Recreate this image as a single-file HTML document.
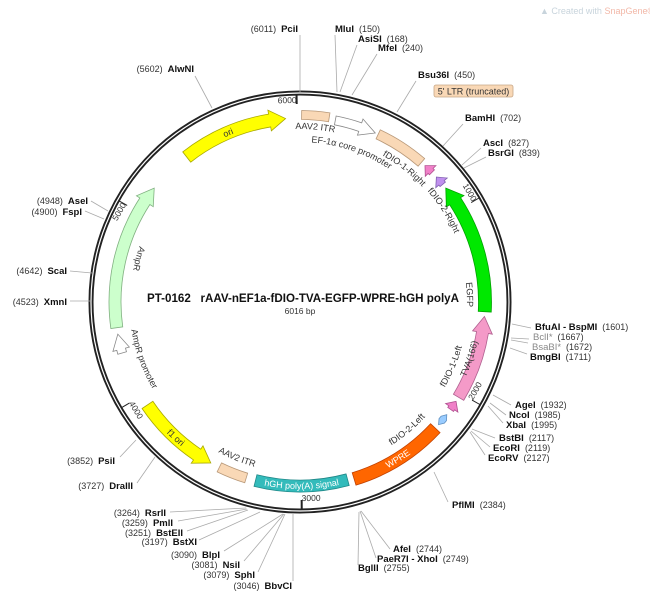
<!DOCTYPE html>
<html><head><meta charset="utf-8">
<style>
html,body{margin:0;padding:0;background:#fff;}
svg{display:block;font-family:"Liberation Sans","DejaVu Sans",sans-serif;}
.n{font-size:9px;fill:#333;}
.b{font-size:9.5px;font-weight:bold;fill:#111;}
.g{font-size:9.5px;fill:#888;}
.f{font-size:9px;fill:#333;}
</style></head>
<body>
<svg id="s" width="650" height="597" viewBox="0 0 650 597" xmlns="http://www.w3.org/2000/svg">
<text x="540" y="14" style="font-size:9px;fill:#c8d4dc">▲ Created with <tspan fill="#f2b8a8">SnapGene®</tspan></text>
<circle cx="300" cy="302" r="209" fill="none" stroke="#222" stroke-width="5"/>
<circle cx="300" cy="302" r="209" fill="none" stroke="#fff" stroke-width="1.2"/>
<text x="147" y="302" style="font-size:11.6px;font-weight:bold;fill:#111">PT-0162 &#160; rAAV-nEF1a-fDIO-TVA-EGFP-WPRE-hGH polyA</text>
<text x="300" y="314" text-anchor="middle" style="font-size:8.5px;fill:#333">6016 bp</text>
<rect x="434" y="85" width="79" height="12" rx="2" fill="#f9d8b6" stroke="#c8a888" stroke-width="0.8"/>
<text x="473.5" y="94.5" text-anchor="middle" class="n">5' LTR (truncated)</text>
<g id="g"></g>
</svg>
<script>
var NS="http://www.w3.org/2000/svg",cx=300,cy=302,g=document.getElementById('g');
function P(r,a){a=a*Math.PI/180;return [cx+r*Math.sin(a),cy-r*Math.cos(a)];}
function el(t,at,par){var e=document.createElementNS(NS,t);for(var k in at)e.setAttribute(k,at[k]);(par||g).appendChild(e);return e;}
function arc(r,a1,a2,sw){var p=P(r,a2),l=Math.abs(a2-a1)>180?1:0;return "A"+r+" "+r+" 0 "+l+" "+sw+" "+p[0].toFixed(2)+" "+p[1].toFixed(2);}
function feat(a1,a2,dir,fill,stroke,R,h){
 R=R||185;h=h||5.5;var H=h+4,hl=Math.min(5,(a2-a1)*0.8);var d;
 if(dir==1){var b=a2-hl;d="M"+P(R+h,a1)+arc(R+h,a1,b,1)+"L"+P(R+H,b)+"L"+P(R,a2)+"L"+P(R-H,b)+"L"+P(R-h,b)+arc(R-h,b,a1,0)+"Z";}
 else if(dir==-1){var b=a1+hl;d="M"+P(R+h,a2)+arc(R+h,a2,b,0)+"L"+P(R+H,b)+"L"+P(R,a1)+"L"+P(R-H,b)+"L"+P(R-h,b)+arc(R-h,b,a2,1)+"Z";}
 else if(dir==2){var b1=a1+1.5,b2=a2-1.5;d="M"+P(R,a1)+"L"+P(R+h,b1)+arc(R+h,b1,b2,1)+"L"+P(R,a2)+"L"+P(R-h,b2)+arc(R-h,b2,b1,0)+"Z";}
 else d="M"+P(R+h,a1)+arc(R+h,a1,a2,1)+"L"+P(R-h,a2)+arc(R-h,a2,a1,0)+"Z";
 el('path',{d:d,fill:fill,stroke:stroke,'stroke-width':0.8});
}
var pid=0;
function lab(t,r,a1,a2,cw,cls,col){
 var id='p'+(pid++);var d;
 if(cw)d="M"+P(r,a1)+arc(r,a1,a2,1);else d="M"+P(r,a2)+arc(r,a2,a1,0);
 el('path',{id:id,d:d,fill:'none'});
 var tx=el('text',{'class':cls||'f'});if(col)tx.setAttribute('style','fill:'+col);
 var tp=el('textPath',{href:'#'+id,startOffset:'50%','text-anchor':'middle'},tx);
 tp.setAttributeNS("http://www.w3.org/1999/xlink","xlink:href","#"+id);tp.textContent=t;
}
feat(322,355.5,1,'#ffff00','#a8a800',184,6.5);
feat(0.5,9,0,'#f9d8b6','#b89878',187,4.5);
feat(11,24,1,'#ffffff','#888',185,4.5);
feat(25,41,0,'#f9d8b6','#b89878',185,5);
feat(42.5,45.5,-1,'#f080c8','#b05090',185,3.5);
feat(47.5,50.5,-1,'#c090ee','#8060b0',185,3.5);
feat(52,93,-1,'#00e800','#00a000',185,6.5);
feat(94.5,121,-1,'#f49ac8','#b06090',185,6);
feat(122.5,125.5,-1,'#f080c8','#b05090',185,3.5);
feat(127.5,131.5,2,'#99ccff','#6090c0',185,3.5);
feat(133,163,0,'#ff6600','#c04000',185,6.5);
feat(165,194,0,'#33bbbb','#208888',184,6);
feat(197,206,0,'#f9d8b6','#b89878',184,5);
feat(209,236,-1,'#ffff00','#a8a800',184,6.5);
feat(254,260,1,'#ffffff','#888',185,4.5);
feat(262,308,1,'#ccffcc','#80b080',185,6);
lab('ori',181,322,352,1,'f','#333');
lab('AAV2 ITR',173,-10,20,1);
lab('EF-1α core promoter',160,3,35,1);
lab('fDIO-1-Right',168,28,48,1);
lab('fDIO-2-Right',169,45,70,1);
lab('EGFP',167,75,100,1);
lab('TVA(166)',182,96,121,0,'f','#333');
lab('fDIO-1-Left',168,103,123,0);
lab('fDIO-2-Left',170,128,152,0);
lab('WPRE',188,133,163,0,'f','#fff');
lab('hGH poly(A) signal',187,160,199,0,'f','#fff');
lab('AAV2 ITR',171,188,216,0);
lab('f1 ori',187,208,237,0,'f','#333');
lab('AmpR',170,270,300,0);
lab('AmpR promoter',171,235,265,0);
[[6000,'end',-1],[1000,'end',0],[2000,'start',-180],[3000,'start',-180],[4000,'start',-180],[5000,'end',0]].forEach(function(t){
 var a=t[0]/6016*360;var p1=P(207,a),p2=P(198,a);
 el('line',{x1:p1[0],y1:p1[1],x2:p2[0],y2:p2[1],stroke:'#222','stroke-width':t[0]==6000||t[0]==3000?2:1});
 var p=P(199,a);var rot=(t[2]==-1?-1:a+t[2]);
 var tx=el('text',{x:p[0],y:p[1],'text-anchor':t[1],transform:'rotate('+rot+' '+p[0]+' '+p[1]+')','class':'n',style:'font-size:8.5px'});
 tx.textContent=t[0];
});
var E=[
[298,32,'L','6011','PciI',0,300,35,300,92],
[335,32,'R','150','MluI',0,335,35,337,92],
[358,42,'R','168','AsiSI',0,357,45,340,92],
[378,51,'R','240','MfeI',0,377,54,352,95],
[418,78,'R','450','Bsu36I',0,416,81,397,112],
[465,121,'R','702','BamHI',0,463,124,443,146],
[483,146,'R','827','AscI',0,481,148,462,165],
[488,156,'R','839','BsrGI',0,486,157,464,168],
[194,72,'L','5602','AlwNI',0,195,76,212,108],
[535,330,'R','1601','BfuAI - BspMI',0,531,328,512,324],
[533,340,'R','1667','BclI*',1,529,339,511,338],
[532,350,'R','1672','BsaBI*',1,528,343,511,340],
[530,360,'R','1711','BmgBI',0,527,354,510,348],
[515,408,'R','1932','AgeI',0,511,405,493,395],
[509,418,'R','1985','NcoI',0,506,415,490,403],
[506,428,'R','1995','XbaI',0,503,423,488,406],
[499,441,'R','2117','BstBI',0,495,438,472,429],
[493,451,'R','2119','EcoRI',0,490,447,471,431],
[488,461,'R','2127','EcoRV',0,485,455,470,432],
[452,508,'R','2384','PflMI',0,448,502,434,472],
[393,552,'R','2744','AfeI',0,390,549,361,511],
[377,562,'R','2749','PaeR7I - XhoI',0,376,558,360,511],
[358,571,'R','2755','BglII',0,358,565,359,512],
[292,589,'L','3046','BbvCI',0,293,581,293,514],
[255,578,'L','3079','SphI',0,258,572,285,514],
[240,568,'L','3081','NsiI',0,244,561,284,514],
[220,558,'L','3090','BlpI',0,224,551,283,514],
[197,545,'L','3197','BstXI',0,199,540,260,512],
[183,536,'L','3251','BstEII',0,187,531,248,510],
[173,526,'L','3259','PmlI',0,178,521,247,509],
[166,516,'L','3264','RsrII',0,170,512,246,508],
[133,489,'L','3727','DraIII',0,137,483,155,457],
[115,464,'L','3852','PsiI',0,120,457,136,440],
[67,305,'L','4523','XmnI',0,70,301,91,301],
[67,274,'L','4642','ScaI',0,70,271,92,273],
[82,215,'L','4900','FspI',0,85,211,104,219],
[88,204,'L','4948','AseI',0,91,201,108,211]
];
E.forEach(function(e){
 el('line',{x1:e[6],y1:e[7],x2:e[8],y2:e[9],stroke:'#aaa','stroke-width':0.8});
 var tx=el('text',{x:e[0],y:e[1],'text-anchor':e[2]=='L'?'end':'start'});
 var nm=document.createElementNS(NS,'tspan');nm.setAttribute('class',e[5]?'g':'b');nm.textContent=e[4];
 var nu=document.createElementNS(NS,'tspan');nu.setAttribute('class','n');
 if(e[2]=='L'){nu.textContent='('+e[3]+')  ';tx.appendChild(nu);tx.appendChild(nm);}
 else{nu.textContent='  ('+e[3]+')';tx.appendChild(nm);tx.appendChild(nu);}
 tx.setAttribute('xml:space','preserve');tx.style.whiteSpace='pre';
});
</script>
</body></html>
